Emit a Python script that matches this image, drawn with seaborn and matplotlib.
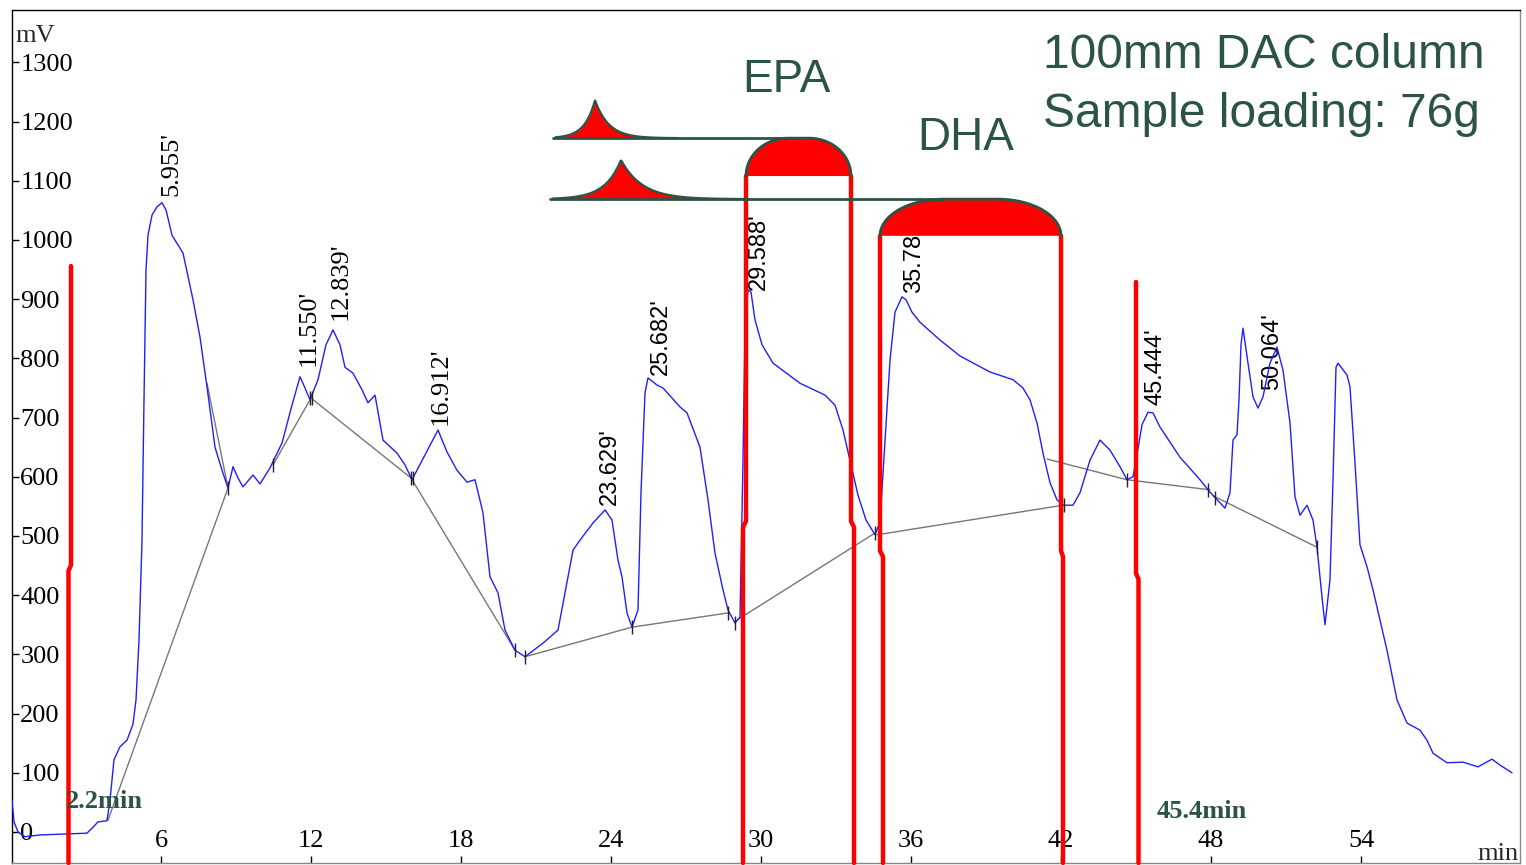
import numpy as np
import matplotlib
matplotlib.use("Agg")
import matplotlib.pyplot as plt
import seaborn as sns

# ---------------- data ----------------
time_min = [0.04, 0.12, 0.28, 0.56, 1.16, 3.04, 3.28, 3.48, 3.84, 3.96, 4.12, 4.36, 4.64, 4.88, 5.00,
            5.12, 5.24, 5.32, 5.40, 5.48, 5.64, 5.84, 6.04, 6.20, 6.44, 6.88, 7.28, 7.56, 7.84, 8.16,
            8.48, 8.68, 8.88, 9.08, 9.28, 9.68, 9.96, 10.36, 10.84, 11.24, 11.56, 11.76, 11.96, 12.28,
            12.60, 12.88, 13.16, 13.36, 13.68, 14.04, 14.28, 14.56, 14.88, 15.44, 15.76, 16.04, 16.56,
            17.08, 17.44, 17.84, 18.24, 18.56, 18.88, 19.16, 19.48, 19.76, 20.16, 20.56, 21.28, 21.88,
            22.16, 22.48, 22.76, 23.28, 23.76, 24.04, 24.28, 24.44, 24.64, 24.84, 25.08, 25.20, 25.36,
            25.48, 25.84, 26.08, 26.76, 27.04, 27.56, 27.88, 28.16, 28.48, 28.68, 28.96, 29.16, 29.28,
            29.36, 29.48, 29.60, 29.76, 30.04, 30.48, 31.56, 32.56, 32.96, 33.28, 33.56, 33.88, 34.20,
            34.56, 34.76, 34.96, 35.16, 35.36, 35.64, 35.80, 36.04, 36.36, 37.16, 37.96, 39.16, 40.08,
            40.48, 40.76, 41.04, 41.28, 41.56, 41.84, 42.08, 42.48, 42.76, 43.16, 43.56, 43.96, 44.36,
            44.64, 44.88, 45.04, 45.24, 45.48, 45.68, 45.96, 46.76, 47.56, 47.96, 48.36, 48.56, 48.76,
            48.88, 49.04, 49.12, 49.20, 49.28, 49.48, 49.68, 49.88, 50.08, 50.36, 50.64, 50.88, 51.16,
            51.36, 51.56, 51.84, 52.08, 52.24, 52.44, 52.56, 52.76, 52.88, 53.00, 53.08, 53.44, 53.56,
            53.76, 53.96, 54.24, 54.48, 55.04, 55.44, 55.84, 56.36, 56.64, 56.88, 57.44, 58.08, 58.68,
            59.24, 59.56, 60.04]
signal_mv = [54, 17, 0, -8, -5, -2, 8, 17, 19, 54, 122, 144, 155, 182, 223,
             324, 493, 730, 949, 1008, 1042, 1056, 1063, 1051, 1008, 978, 899, 836, 752, 650,
             606, 581, 617, 598, 583, 603, 588, 615, 657, 721, 769, 750, 730, 764,
             823, 848, 823, 785, 775, 747, 725, 738, 662, 640, 620, 595, 637,
             679, 642, 611, 591, 595, 539, 431, 404, 341, 307, 296, 319, 341,
             404, 476, 493, 522, 544, 527, 459, 431, 370, 346, 375, 573, 742,
             767, 755, 750, 718, 708, 650, 561, 471, 409, 375, 353, 363, 628,
             848, 916, 912, 865, 823, 792, 758, 738, 721, 679, 628, 569, 527,
             502, 524, 662, 797, 878, 904, 899, 878, 861, 831, 804, 777, 764,
             750, 730, 691, 640, 590, 561, 552, 552, 573, 628, 662, 645, 617,
             595, 600, 637, 688, 709, 708, 684, 633, 595, 574, 556, 547, 573,
             662, 671, 730, 823, 851, 792, 735, 716, 735, 792, 819, 780, 691,
             566, 535, 552, 527, 481, 397, 350, 426, 595, 785, 792, 772, 752,
             623, 485, 448, 409, 307, 223, 184, 172, 155, 133, 117, 118, 110,
             123, 113, 100]

# integration baselines (start t, start mV, end t, end mV)
base_t0 = [3.88, 7.84, 10.48, 12.00, 16.00, 20.56, 24.84, 29.04, 34.64, 41.44, 44.64, 48.08]
base_v0 = [20, 758, 620, 733, 598, 296, 346, 358, 502, 630, 595, 568]
base_t1 = [8.68, 8.68, 12.00, 16.00, 20.16, 24.84, 28.68, 34.56, 42.08, 44.64, 47.96, 52.24]
base_v1 = [581, 581, 733, 598, 307, 346, 370, 505, 552, 595, 578, 481]

# integration tick marks
mark_t = [8.68, 10.48, 11.96, 12.04, 16.00, 16.08, 20.16, 20.56, 24.84, 28.68, 28.96,
          34.56, 34.76, 42.04, 42.12, 44.64, 47.88, 48.16, 52.24]
mark_v = [581, 620, 733, 733, 598, 598, 307, 296, 346, 370, 353,
          505, 502, 552, 552, 595, 578, 564, 481]

# peak labels
peak_text = ["5.955'", "11.550'", "12.839'", "16.912'", "23.629'", "25.682'",
             "29.588'", "35.788'", "45.444'", "50.064'"]
peak_t = [6.40, 11.92, 13.20, 17.20, 23.96, 26.00, 29.92, 36.12, 45.76, 50.44]
peak_v = [1074, 787, 865, 688, 552, 772, 916, 910, 721, 747]
peak_serif = [True, True, True, True, False, False, False, False, False, False]

# fraction cut lines: upper t, lower t, top mV, jog mV
cut_t_up = [2.40, 29.40, 33.60, 34.76, 42.00, 45.00]
cut_t_low = [2.30, 29.28, 33.72, 34.88, 42.08, 45.10]
cut_v_top = [956, 1108, 1108, 1007, 1007, 929]
cut_v_jog = [451, 525, 525, 475, 475, 437]

# collected fractions (EPA, DHA) drawn as caps
frac_names = ["EPA", "DHA"]
frac_t0 = [29.40, 34.76]
frac_t1 = [33.60, 42.00]
frac_v_bottom = [1108, 1007]
frac_v_top = [1172, 1069]
frac_line_start = [21.68, 21.56]
frac_label_t = [31.0, 38.2]
frac_label_v = [1270, 1172]
# small reference peaks drawn on the cap lines
ref_peak_t = [23.36, 24.40]
ref_peak_h = [64, 66]

# ---------------- style ----------------
sns.set_theme(style="white")
plt.rcParams["font.family"] = ["Liberation Serif", "DejaVu Serif"]
GREEN = "#2b5445"
RED = "#ff0000"

fig = plt.figure(figsize=(15.26, 8.65), dpi=100)
ax = fig.add_axes([12 / 1526, 2 / 865, 1508 / 1526, 853 / 865])
ax.set_xlim(0.04, 60.36)
ax.set_ylim(-52.4, 1388.5)

# chromatogram
sns.lineplot(x=time_min, y=signal_mv, ax=ax, color="#1f1fff", lw=1.0,
             estimator=None, sort=False, zorder=3)

# baselines
for a, b, c, d in zip(base_t0, base_v0, base_t1, base_v1):
    ax.plot([a, c], [b, d], color="#777777", lw=1.0, zorder=2)
ax.plot(mark_t, mark_v, ls="none", marker="|", ms=10, mew=1.0, color="#222222", zorder=4)

# peak labels
for txt, t, v, s in zip(peak_text, peak_t, peak_v, peak_serif):
    if s:
        ax.text(t, v, txt, rotation=90, ha="center", va="bottom", fontsize=19,
                family=["Liberation Serif"], color="black", zorder=2)
    else:
        ax.text(t, v, txt, rotation=90, ha="center", va="bottom", fontsize=17,
                family=["Liberation Sans"], color="black", zorder=2)

# fraction cut lines
ybot = ax.get_ylim()[0]
for tu, tl, vt, vj in zip(cut_t_up, cut_t_low, cut_v_top, cut_v_jog):
    ax.plot([tu, tu, tl, tl], [vt, vj, vj - 10, ybot], color=RED, lw=3.2,
            solid_joinstyle="miter", zorder=5, clip_on=False)

# caps (domes), lines and reference peaks
for i in range(2):
    t0, t1 = frac_t0[i], frac_t1[i]
    vb, vt = frac_v_bottom[i], frac_v_top[i]
    r = (t1 - t0) * (0.40 if i == 0 else 0.35)
    th1 = np.linspace(np.pi, np.pi / 2, 40)
    th2 = np.linspace(np.pi / 2, 0, 40)
    xs = np.concatenate([t0 + r + r * np.cos(th1), t1 - r + r * np.cos(th2)])
    ys = np.concatenate([vb + (vt - vb) * np.sin(th1), vb + (vt - vb) * np.sin(th2)])
    ax.fill(np.r_[xs, t0], np.r_[ys, vb], color=RED, lw=0, zorder=6)
    ax.plot(xs, ys, color=GREEN, lw=2, zorder=7)
    # long horizontal line
    ax.plot([frac_line_start[i], t0 + r], [vt, vt], color=GREEN, lw=2, zorder=7)
    # reference peak
    tp, h = ref_peak_t[i], ref_peak_h[i]
    wl, wr = (0.42, 0.55) if i == 0 else (0.65, 0.85)
    tt = np.linspace(frac_line_start[i] + 0.1, tp + 6 * wr, 300)
    yy = vt + h * np.where(tt < tp, np.exp(-(tp - tt) / wl), np.exp(-(tt - tp) / wr))
    ax.fill_between(tt, vt, yy, color=RED, lw=0, zorder=6)
    ax.plot(tt, yy, color=GREEN, lw=1.6, zorder=7)
    ax.text(frac_label_t[i], frac_label_v[i], frac_names[i], ha="center", va="center",
            fontsize=33, family=["Liberation Sans"], color=GREEN)

ax.text(0.6837, 0.932, "100mm DAC column", transform=ax.transAxes, ha="left",
        va="baseline", fontsize=34.5, family=["Liberation Sans"], color=GREEN)
ax.text(0.6837, 0.863, "Sample loading: 76g", transform=ax.transAxes, ha="left",
        va="baseline", fontsize=34.5, family=["Liberation Sans"], color=GREEN)
ax.text(2.2, 41, "2.2min", ha="left", va="baseline", fontsize=19, fontweight="bold",
        color=GREEN, zorder=8)
ax.text(45.84, 24, "45.4min", ha="left", va="baseline", fontsize=19, fontweight="bold",
        color=GREEN, zorder=8)

# axis labels inside the frame
ax.text(0.002, 0.9625, "mV", transform=ax.transAxes, ha="left", va="baseline", fontsize=19)
ax.text(0.999, 0.003, "min", transform=ax.transAxes, ha="right", va="baseline", fontsize=19,
        clip_on=False)

# ticks
ax.set_xticks(list(range(6, 55, 6)))
ax.set_yticks(list(range(0, 1301, 100)))
ax.tick_params(axis="both", direction="in", length=5, width=1, color="black",
               labelsize=19, labelcolor="black")
ax.tick_params(axis="y", pad=-6, left=True)
ax.tick_params(axis="x", pad=-8, bottom=True)
plt.setp(ax.get_yticklabels(), ha="left")
plt.setp(ax.get_xticklabels(), va="bottom")
ax.set_xlabel("")
ax.set_ylabel("")
ax.grid(False)

for side, col in [("top", "black"), ("left", "black"), ("right", "#888888"), ("bottom", "#888888")]:
    ax.spines[side].set_visible(True)
    ax.spines[side].set_color(col)
    ax.spines[side].set_linewidth(1.0)

fig.savefig("out.png", dpi=100)
